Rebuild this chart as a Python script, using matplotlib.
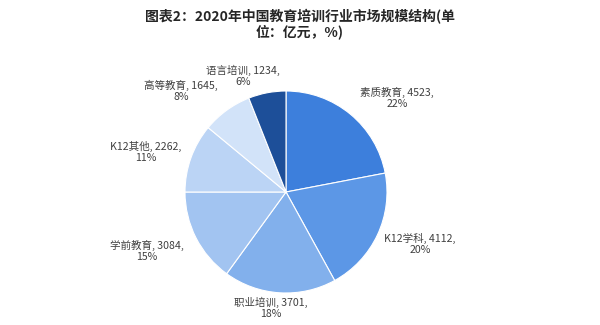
import matplotlib
matplotlib.use("Agg")
import matplotlib.pyplot as plt

plt.rcParams['font.family'] = ['Noto Sans CJK SC', 'DejaVu Sans']

categories = ["素质教育", "K12学科", "职业培训", "学前教育", "K12其他", "高等教育", "语言培训"]
values = [4523, 4112, 3701, 3084, 2262, 1645, 1234]
percents = ["22%", "20%", "18%", "15%", "11%", "8%", "6%"]
colors = ["#3D7FDC", "#5C97E6", "#82B0EC", "#A2C4F1", "#BBD4F5", "#D2E3F9", "#1D4F99"]
# label centre positions in pixel coords (x, y from top)
label_pos = [(397, 98), (420, 244), (271, 308), (147, 251), (146, 152), (181, 91), (243, 76)]

fig = plt.figure(figsize=(6, 3.25), dpi=100)
ax = fig.add_axes([0, 0, 1, 1])

cx, cy, R = 286, 325 - 192, 101
ax.pie(values, colors=colors, startangle=90, counterclock=False,
       center=(cx, cy), radius=R, frame=True,
       wedgeprops=dict(edgecolor='white', linewidth=0.8))
ax.set_xlim(0, 600)
ax.set_ylim(0, 325)
ax.set_aspect('equal')
ax.axis('off')

for cat, v, p, (lx, ly) in zip(categories, values, percents, label_pos):
    ax.text(lx, 325 - ly, f"{cat}, {v},\n{p}", ha='center', va='center',
            fontsize=7.6, color='#404040', linespacing=1.15)

fig.text(0.5, 1 - 9 / 325, "图表2：2020年中国教育培训行业市场规模结构(单\n位：亿元，%)",
         ha='center', va='top', fontsize=10, fontweight='bold', color='#262626',
         linespacing=1.0)

fig.savefig("out.png", dpi=100)
